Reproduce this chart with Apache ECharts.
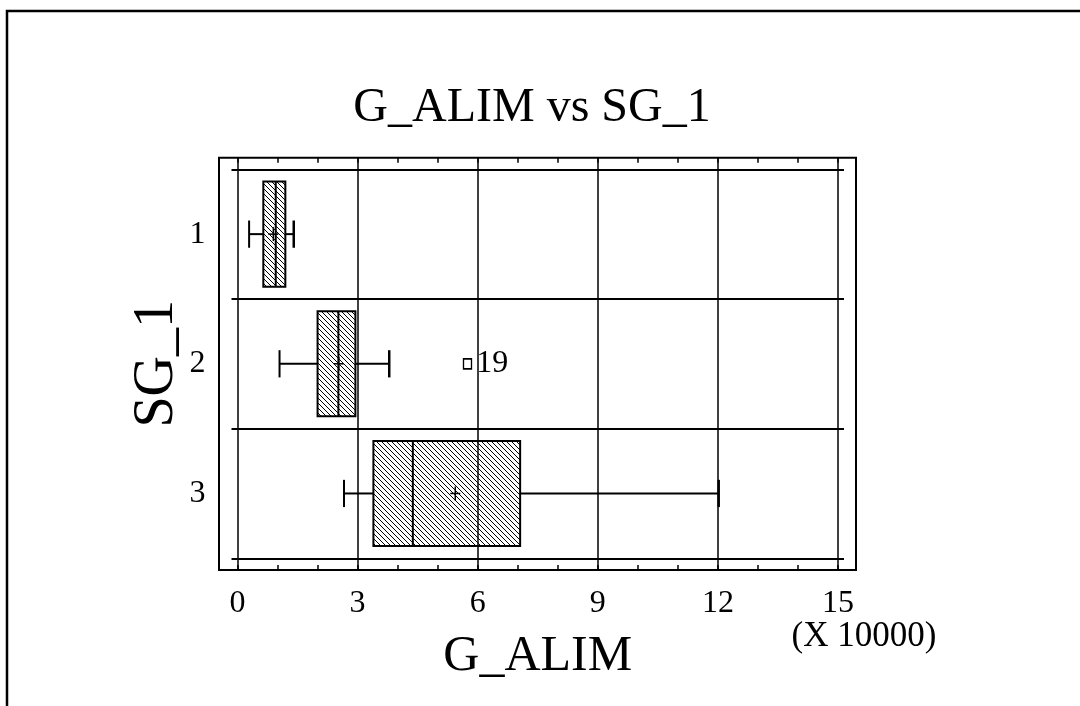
<!DOCTYPE html>
<html>
<head>
<meta charset="utf-8">
<script src="https://cdn.jsdelivr.net/npm/echarts@6/dist/echarts.min.js"></script>
<style>html,body{margin:0;padding:0;background:#fff}#c{width:1080px;height:706px}</style>
</head>
<body>
<div id="c"></div>
<script>
// ---- data (G_ALIM in units of 10000) ----
const categories = ['1', '2', '3'];
const whiskerLow  = [0.29, 1.05, 2.66];
const q1          = [0.645, 2.00, 3.395];
const median      = [0.955, 2.52, 4.38];
const q3          = [1.195, 2.945, 7.06];
const whiskerHigh = [1.405, 3.79, 12.02];
const means       = [0.895, 2.53, 5.44];
const outlierCats   = ['2'];
const outlierValues = [5.745];
const outlierLabels = ['19'];
const xTickValues = [0, 3, 6, 9, 12, 15];

const FONT = "'Liberation Serif','Times New Roman',serif";

function makeHatch() {
  const c = document.createElement('canvas');
  c.width = 5; c.height = 5;
  const g = c.getContext('2d');
  g.strokeStyle = '#000';
  g.lineWidth = 1;
  g.beginPath();
  g.moveTo(-1, -1); g.lineTo(6, 6);
  g.moveTo(4, -1); g.lineTo(6, 1);
  g.moveTo(-1, 4); g.lineTo(1, 6);
  g.stroke();
  return c;
}
const hatch = { image: makeHatch(), repeat: 'repeat' };

const boxData = categories.map((c, i) => [i, whiskerLow[i], q1[i], median[i], q3[i], whiskerHigh[i], means[i]]);
const outlierData = outlierCats.map((c, i) => [outlierValues[i], categories.indexOf(c), outlierLabels[i]]);

function renderBox(params, api) {
  const cat = api.value(0);
  const pLo = api.coord([api.value(1), cat]);
  const pA = api.coord([api.value(2), cat]);
  const pM = api.coord([api.value(3), cat]);
  const pB = api.coord([api.value(4), cat]);
  const pHi = api.coord([api.value(5), cat]);
  const pMean = api.coord([api.value(6), cat]);
  const band = api.size([0, 1])[1];
  const y = pA[1];
  const bh = band * 0.81;
  const cap = band * 0.105;
  const ln = (x1, y1, x2, y2, w) => ({ type: 'line', shape: { x1, y1, x2, y2 }, style: { stroke: '#000', lineWidth: w } });
  return {
    type: 'group',
    children: [
      { type: 'rect', shape: { x: pA[0], y: y - bh / 2, width: pB[0] - pA[0], height: bh },
        style: { fill: hatch, stroke: '#000', lineWidth: 2 } },
      ln(pM[0], y - bh / 2, pM[0], y + bh / 2, 2),
      ln(pLo[0], y, pA[0], y, 2),
      ln(pB[0], y, pHi[0], y, 2),
      ln(pLo[0], y - cap, pLo[0], y + cap, 2),
      ln(pHi[0], y - cap, pHi[0], y + cap, 2.5),
      ln(pMean[0] - 5, y, pMean[0] + 5, y, 1.5),
      ln(pMean[0], y - 7, pMean[0], y + 7, 1.5)
    ]
  };
}

const chart = echarts.init(document.getElementById('c'), null, { renderer: 'canvas' });
chart.setOption({
  backgroundColor: '#fff',
  animation: false,
  title: {
    text: 'G_ALIM vs SG_1',
    left: 527, top: 79, textAlign: 'center',
    textStyle: { fontFamily: FONT, fontSize: 48, fontWeight: 'normal', color: '#000' }
  },
  grid: [
    { left: 237.5, right: 242, top: 157.7, bottom: 136 },
    { left: 237.5, right: 242, top: 169.3, bottom: 147.7 }
  ],
  xAxis: [
    { gridIndex: 0, type: 'value', min: 0, max: 15, interval: 3, position: 'bottom',
      axisLine: { show: false },
      axisTick: { show: true, inside: true, length: 5, lineStyle: { color: '#000', width: 1.5 } },
      minorTick: { show: true, splitNumber: 3, length: 5, lineStyle: { color: '#000', width: 1.5 } },
      splitLine: { show: true, lineStyle: { color: '#000', width: 1.5 } },
      axisLabel: { margin: 18, fontFamily: FONT, fontSize: 32, color: '#000',
        formatter: v => xTickValues.includes(v) ? String(v) : '' },
      name: 'G_ALIM', nameLocation: 'middle', nameGap: 62,
      nameTextStyle: { fontFamily: FONT, fontSize: 50, color: '#000' } },
    { gridIndex: 0, type: 'value', min: 0, max: 15, interval: 3, position: 'top',
      axisLine: { show: false },
      axisTick: { show: true, inside: true, length: 5, lineStyle: { color: '#000', width: 1.5 } },
      minorTick: { show: true, splitNumber: 3, length: 5, lineStyle: { color: '#000', width: 1.5 } },
      splitLine: { show: false }, axisLabel: { show: false } },
    { gridIndex: 1, type: 'value', min: 0, max: 15, show: false, splitLine: { show: false } }
  ],
  yAxis: [
    { gridIndex: 0, type: 'value', show: false, splitLine: { show: false } },
    { gridIndex: 1, type: 'category', data: categories, inverse: true, position: 'left',
      axisLine: { show: false },
      axisTick: { show: true, length: 6, lineStyle: { color: '#000', width: 2 } },
      splitLine: { show: true, lineStyle: { color: '#000', width: 2 } },
      axisLabel: { margin: 32, fontFamily: FONT, fontSize: 32, color: '#000' },
      name: 'SG_1', nameLocation: 'middle', nameRotate: 90, nameGap: 52, nameMoveOverlap: false,
      nameTextStyle: { fontFamily: FONT, fontSize: 56, color: '#000' } },
    { gridIndex: 1, type: 'category', data: categories, inverse: true, position: 'right',
      axisLine: { show: false },
      axisTick: { show: true, length: 6, lineStyle: { color: '#000', width: 2 } },
      splitLine: { show: false }, axisLabel: { show: false } }
  ],
  series: [
    { type: 'custom', xAxisIndex: 2, yAxisIndex: 1, data: boxData,
      encode: { x: [1, 2, 3, 4, 5, 6], y: 0 }, renderItem: renderBox, z: 3 },
    { type: 'scatter', xAxisIndex: 2, yAxisIndex: 1, data: outlierData,
      symbol: 'rect', symbolSize: [8, 10],
      itemStyle: { color: '#fff', borderColor: '#000', borderWidth: 1.5, opacity: 1 },
      label: { show: true, position: 'right', distance: 4, formatter: p => p.data[2],
        fontFamily: FONT, fontSize: 32, color: '#000' }, z: 4 }
  ],
  graphic: [
    { type: 'rect', shape: { x: 219, y: 157.7, width: 637, height: 412.3 },
      style: { fill: 'none', stroke: '#000', lineWidth: 2 }, z: 10 },
    { type: 'rect', shape: { x: 7, y: 11, width: 1200, height: 900 },
      style: { fill: 'none', stroke: '#000', lineWidth: 2.5 }, z: 10 },
    { type: 'text', x: 864, y: 637,
      style: { text: '(X 10000)', fontFamily: FONT, fontSize: 35, fill: '#000', textAlign: 'center', textVerticalAlign: 'middle' } }
  ]
});
</script>
</body>
</html>
